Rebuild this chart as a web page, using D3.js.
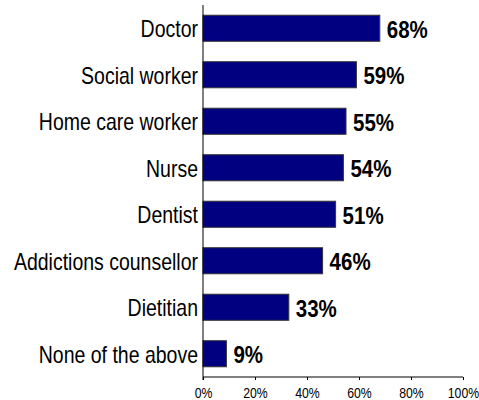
<!DOCTYPE html>
<html>
<head>
<meta charset="utf-8">
<script src="https://cdn.jsdelivr.net/npm/d3@7"></script>
<style>
  html, body { margin: 0; padding: 0; background: #fff; }
  svg { display: block; font-family: "Liberation Sans", Arial, sans-serif; }
</style>
</head>
<body>
<svg id="chart" width="479" height="400"></svg>
<script>
const categories = ["Doctor", "Social worker", "Home care worker", "Nurse", "Dentist", "Addictions counsellor", "Dietitian", "None of the above"];
const values = [68, 59, 55, 54, 51, 46, 33, 9];
const tickValues = [0, 20, 40, 60, 80, 100];

const svg = d3.select("#chart");
const plotLeft = 203, plotRight = 463, plotTop = 5, plotBottom = 377;
const fontFamily = "'Liberation Sans', Arial, sans-serif";

const x = d3.scaleLinear().domain([0, 100]).range([plotLeft, plotRight]);
const y = d3.scaleBand().domain(categories).range([plotTop, plotBottom]).paddingInner(0.44).paddingOuter(0.22);

const data = categories.map((c, i) => ({ c, v: values[i] }));

// bars
svg.append("g").selectAll("rect").data(data).join("rect")
  .attr("x", x(0))
  .attr("y", d => y(d.c))
  .attr("width", d => x(d.v) - x(0))
  .attr("height", y.bandwidth())
  .attr("fill", "#000080")
  .attr("stroke", "#333")
  .attr("stroke-width", 1);

// value labels (slightly tall lettering)
const valScale = 1.13;
svg.append("g").selectAll("text").data(data).join("text")
  .attr("transform", d => `translate(${x(d.v) + 7},${y(d.c) + y.bandwidth() / 2 + 9.5}) scale(1,${valScale})`)
  .attr("font-size", 20.5)
  .attr("font-weight", "bold")
  .attr("font-family", fontFamily)
  .attr("fill", "#000")
  .text(d => d.v + "%");

// category axis
const catScale = 1.2;
const yAxis = svg.append("g")
  .attr("transform", `translate(${plotLeft},0)`)
  .call(d3.axisLeft(y).tickSize(0).tickPadding(5));
yAxis.select(".domain").attr("stroke", "#000").attr("d", `M0,${plotTop}V${plotBottom + 3}`);
yAxis.selectAll(".tick text")
  .attr("x", null).attr("dy", null)
  .attr("y", 9 / catScale)
  .attr("transform", `translate(-5,0) scale(1,${catScale})`)
  .attr("font-size", 19.5).attr("fill", "#000")
  .attr("font-family", fontFamily);

// value axis
const tickScale = 1.12;
const xAxis = svg.append("g")
  .attr("transform", `translate(0,${plotBottom})`)
  .call(d3.axisBottom(x).tickValues(tickValues).tickSize(3).tickFormat(d => d + "%"));
xAxis.select(".domain").attr("stroke", "#000").attr("d", `M${plotLeft},0H${plotRight}`);
xAxis.selectAll(".tick line").attr("stroke", "#000");
xAxis.selectAll(".tick text")
  .attr("dy", null)
  .attr("y", 21 / tickScale)
  .attr("transform", `scale(1,${tickScale})`)
  .attr("font-size", 12.3).attr("fill", "#000")
  .attr("font-family", fontFamily);
</script>
</body>
</html>
